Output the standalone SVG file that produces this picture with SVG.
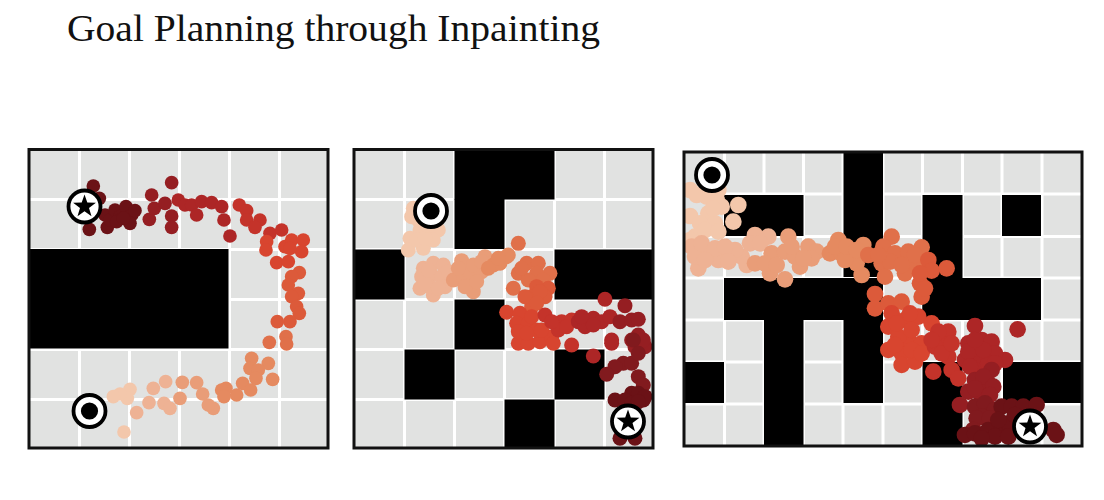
<svg xmlns="http://www.w3.org/2000/svg" width="1104" height="500" viewBox="0 0 1104 500">
<style>
.title{font-family:"Liberation Serif","Times New Roman",serif;font-size:37.5px;fill:#111}
.floor{fill:#e1e2e1}
.frame{fill:none;stroke:#111;stroke-width:3}
.grid{stroke:#fff;stroke-width:3;fill:none}
.wall{fill:#000}
.d circle{r:20.500px}
.p circle{r:22.500px}
.e circle{r:25px}
.c1{fill:#f3c7ab}.c2{fill:#eeb294}.c3{fill:#e99d78}.c4{fill:#e58a60}.c5{fill:#e0704a}
.c6{fill:#dc5a3a}.c7{fill:#d8452f}.c8{fill:#c4332a}.c9{fill:#ad2626}.c10{fill:#951e22}.c11{fill:#811a1e}.c12{fill:#6b1216}
</style>
<defs>
<clipPath id="clip1"><rect x="30" y="150" width="297" height="297"/></clipPath>
<clipPath id="clip2"><rect x="355" y="150" width="297" height="297"/></clipPath>
<clipPath id="clip3"><rect x="685" y="153" width="396" height="292"/></clipPath>
<g id="startMark"><circle r="16" fill="#fff" stroke="#000" stroke-width="3.800"/><circle r="8.600" fill="#000"/></g>
<g id="goalMark"><circle r="16" fill="#fff" stroke="#000" stroke-width="3.800"/><polygon points="0,-12 2.800,-3.900 11.400,-3.700 4.500,1.500 7,9.700 0,4.800 -7,9.700 -4.500,1.500 -11.400,-3.700 -2.800,-3.900" fill="#000"/></g>
</defs>
<rect width="1104" height="500" fill="#fff"/>
<text class="title" x="67" y="41" textLength="533" lengthAdjust="spacingAndGlyphs">Goal Planning through Inpainting</text>

<g id="panel1">
<rect class="floor" x="30" y="150" width="297" height="297"/>
<path class="grid" d="M79.500 150V447M129.500 150V447M179.500 150V447M229.500 150V447M279.500 150V447M30 199.500H327M30 249.500H327M30 299.500H327M30 349.500H327M30 399.500H327"/>
<rect class="wall" x="30" y="249" width="198.500" height="99.500"/>
<g class="d" clip-path="url(#clip1)"><g transform="translate(20,140) scale(.3333)">
<g class="c12"><circle cx="220" cy="138"/><circle cx="238" cy="175"/><circle cx="208" cy="268"/><circle cx="262" cy="262"/><circle cx="255" cy="225"/><circle cx="270" cy="240"/><circle cx="285" cy="210"/><circle cx="300" cy="230"/><circle cx="318" cy="200"/><circle cx="335" cy="225"/><circle cx="345" cy="212"/><circle cx="330" cy="250"/><circle cx="290" cy="245"/><circle cx="310" cy="235"/></g>
<g class="c10"><circle cx="388" cy="238"/><circle cx="395" cy="165"/><circle cx="403" cy="205"/><circle cx="435" cy="190"/><circle cx="455" cy="128"/><circle cx="455" cy="228"/><circle cx="455" cy="262"/></g>
<g class="c9"><circle cx="475" cy="180"/><circle cx="495" cy="195"/><circle cx="515" cy="195"/><circle cx="545" cy="185"/><circle cx="575" cy="188"/><circle cx="530" cy="225"/><circle cx="605" cy="200"/><circle cx="612" cy="240"/><circle cx="630" cy="288"/></g>
<g class="c8"><circle cx="658" cy="195"/><circle cx="680" cy="212"/><circle cx="680" cy="240"/><circle cx="720" cy="240"/><circle cx="705" cy="262"/><circle cx="750" cy="280"/><circle cx="785" cy="270"/></g>
<g class="c7"><circle cx="740" cy="305"/><circle cx="738" cy="330"/><circle cx="770" cy="368"/><circle cx="805" cy="365"/><circle cx="795" cy="320"/><circle cx="815" cy="300"/><circle cx="850" cy="300"/><circle cx="845" cy="335"/><circle cx="810" cy="325"/></g>
<g class="c6"><circle cx="838" cy="398"/><circle cx="815" cy="410"/><circle cx="805" cy="435"/><circle cx="835" cy="460"/><circle cx="815" cy="470"/><circle cx="830" cy="500"/><circle cx="838" cy="520"/><circle cx="810" cy="545"/><circle cx="772" cy="545"/></g>
<g class="c5"><circle cx="798" cy="590"/><circle cx="800" cy="612"/><circle cx="748" cy="607"/></g>
<g class="c4"><circle cx="695" cy="655"/><circle cx="745" cy="670"/><circle cx="690" cy="685"/><circle cx="715" cy="690"/><circle cx="708" cy="715"/><circle cx="758" cy="718"/><circle cx="668" cy="730"/><circle cx="692" cy="750"/><circle cx="650" cy="765"/><circle cx="618" cy="745"/><circle cx="605" cy="750"/><circle cx="612" cy="770"/></g>
<g class="c3"><circle cx="580" cy="805"/><circle cx="565" cy="795"/><circle cx="548" cy="762"/><circle cx="530" cy="728"/><circle cx="487" cy="727"/><circle cx="480" cy="775"/></g>
<g class="c2"><circle cx="437" cy="725"/><circle cx="400" cy="745"/><circle cx="432" cy="790"/><circle cx="450" cy="805"/><circle cx="387" cy="788"/><circle cx="350" cy="818"/></g>
<g class="c1"><circle cx="330" cy="748"/><circle cx="322" cy="775"/><circle cx="300" cy="762"/><circle cx="280" cy="770"/><circle cx="312" cy="876"/></g>
</g></g>
<use href="#startMark" x="89.500" y="411"/>
<use href="#goalMark" x="84.500" y="206.500"/>
<rect class="frame" x="29" y="149.500" width="299" height="298.500"/>
</g>

<g id="panel2">
<rect class="floor" x="355" y="150" width="297" height="297"/>
<path class="grid" d="M404.500 150V447M454.500 150V447M504.500 150V447M554.500 150V447M604.500 150V447M355 199.500H652M355 249.500H652M355 299.500H652M355 349.500H652M355 399.500H652"/>
<g class="wall">
<rect x="454.500" y="150" width="100" height="49.500"/>
<rect x="454.500" y="199" width="50" height="50"/>
<rect x="355" y="249.500" width="49.500" height="50"/>
<rect x="554.500" y="249.500" width="97.500" height="50"/>
<rect x="454.500" y="299.500" width="50" height="50"/>
<rect x="404.500" y="349.500" width="50" height="50"/>
<rect x="554.500" y="349.500" width="50" height="50"/>
<rect x="504.500" y="399.500" width="50" height="47.500"/>
</g>
<g class="p" clip-path="url(#clip2)"><g transform="translate(345,140) scale(.3333)">
<g class="c1"><circle cx="205" cy="205"/><circle cx="200" cy="230"/><circle cx="225" cy="270"/><circle cx="265" cy="270"/><circle cx="280" cy="270"/><circle cx="195" cy="295"/><circle cx="190" cy="330"/><circle cx="235" cy="325"/><circle cx="265" cy="300"/><circle cx="215" cy="300"/><circle cx="240" cy="295"/><circle cx="245" cy="255"/><circle cx="220" cy="240"/></g>
<g class="c2"><circle cx="235" cy="385"/><circle cx="265" cy="370"/><circle cx="295" cy="375"/><circle cx="230" cy="410"/><circle cx="260" cy="405"/><circle cx="290" cy="410"/><circle cx="225" cy="445"/><circle cx="265" cy="465"/><circle cx="300" cy="440"/><circle cx="255" cy="440"/><circle cx="330" cy="400"/><circle cx="240" cy="430"/><circle cx="280" cy="445"/><circle cx="310" cy="395"/><circle cx="250" cy="390"/></g>
<g class="c3"><circle cx="350" cy="362"/><circle cx="325" cy="420"/><circle cx="355" cy="420"/><circle cx="375" cy="395"/><circle cx="385" cy="455"/><circle cx="360" cy="440"/><circle cx="420" cy="350"/><circle cx="410" cy="395"/><circle cx="395" cy="425"/><circle cx="340" cy="385"/><circle cx="385" cy="375"/><circle cx="410" cy="365"/></g>
<g class="c4"><circle cx="445" cy="375"/><circle cx="490" cy="345"/><circle cx="465" cy="370"/><circle cx="485" cy="350"/><circle cx="430" cy="385"/><circle cx="460" cy="355"/></g>
<g class="c5"><circle cx="520" cy="310"/><circle cx="505" cy="445"/><circle cx="545" cy="370"/><circle cx="580" cy="370"/><circle cx="615" cy="400"/><circle cx="520" cy="400"/><circle cx="575" cy="400"/><circle cx="550" cy="420"/><circle cx="530" cy="385"/><circle cx="595" cy="420"/></g>
<g class="c6"><circle cx="610" cy="445"/><circle cx="575" cy="440"/><circle cx="600" cy="470"/><circle cx="560" cy="470"/><circle cx="560" cy="500"/><circle cx="540" cy="470"/><circle cx="585" cy="455"/><circle cx="575" cy="490"/></g>
<g class="c7"><circle cx="485" cy="517"/><circle cx="525" cy="520"/><circle cx="515" cy="550"/><circle cx="520" cy="610"/><circle cx="550" cy="610"/><circle cx="585" cy="605"/><circle cx="620" cy="590"/><circle cx="625" cy="610"/><circle cx="550" cy="550"/><circle cx="575" cy="570"/><circle cx="520" cy="575"/><circle cx="545" cy="580"/><circle cx="590" cy="570"/><circle cx="560" cy="530"/></g>
<g class="c8"><circle cx="600" cy="525"/><circle cx="650" cy="545"/><circle cx="680" cy="615"/><circle cx="680" cy="540"/><circle cx="640" cy="570"/><circle cx="620" cy="545"/><circle cx="665" cy="560"/></g>
<g class="c9"><circle cx="700" cy="545"/><circle cx="720" cy="560"/><circle cx="745" cy="535"/><circle cx="770" cy="545"/><circle cx="780" cy="478"/><circle cx="745" cy="648"/><circle cx="795" cy="530"/><circle cx="800" cy="600"/><circle cx="800" cy="610"/><circle cx="710" cy="530"/><circle cx="745" cy="555"/></g>
<g class="c10"><circle cx="840" cy="497"/><circle cx="825" cy="545"/><circle cx="860" cy="540"/><circle cx="880" cy="538"/><circle cx="880" cy="585"/><circle cx="870" cy="620"/><circle cx="900" cy="620"/><circle cx="895" cy="600"/><circle cx="860" cy="600"/></g>
<g class="c11"><circle cx="865" cy="600"/><circle cx="835" cy="670"/><circle cx="810" cy="680"/><circle cx="785" cy="703"/><circle cx="860" cy="670"/><circle cx="880" cy="710"/><circle cx="895" cy="735"/><circle cx="880" cy="640"/></g>
<g class="c12"><circle cx="860" cy="760"/><circle cx="880" cy="760"/><circle cx="810" cy="780"/><circle cx="840" cy="780"/><circle cx="895" cy="780"/><circle cx="860" cy="790"/><circle cx="825" cy="895"/><circle cx="870" cy="895"/><circle cx="900" cy="770"/><circle cx="880" cy="785"/></g>
</g></g>
<use href="#startMark" x="431" y="211"/>
<use href="#goalMark" x="628" y="421.500"/>
<rect class="frame" x="354" y="149.500" width="299" height="298.500"/>
</g>

<g id="panel3">
<rect class="floor" x="685" y="153" width="396" height="292"/>
<path class="grid" d="M724.500 153V445M764 153V445M803.500 153V445M843 153V445M883 153V445M922.500 153V445M962.500 153V445M1002 153V445M1042 153V445M685 194H1081M685 236.500H1081M685 278H1081M685 320H1081M685 362H1081M685 404H1081"/>
<g class="wall">
<rect x="843.500" y="153" width="39.500" height="124"/>
<rect x="724" y="195" width="79.500" height="41"/>
<rect x="922.500" y="195" width="40" height="125"/>
<rect x="1002" y="195" width="39" height="41"/>
<rect x="724" y="278" width="159" height="42"/>
<rect x="922.500" y="278" width="118.500" height="42"/>
<rect x="764" y="320" width="39.500" height="125"/>
<rect x="843.500" y="320" width="39.500" height="83"/>
<rect x="685" y="362" width="39" height="41"/>
<rect x="1003" y="362" width="78" height="41"/>
<rect x="922.500" y="362" width="40" height="83"/>
</g>
<g class="e" clip-path="url(#clip3)"><g transform="translate(675,140) scale(.3333)">
<g class="c1"><circle cx="45" cy="150"/><circle cx="45" cy="228"/><circle cx="190" cy="195"/><circle cx="175" cy="245"/><circle cx="125" cy="180"/><circle cx="100" cy="220"/><circle cx="120" cy="250"/><circle cx="140" cy="200"/><circle cx="75" cy="250"/><circle cx="60" cy="290"/><circle cx="45" cy="300"/><circle cx="130" cy="150"/><circle cx="95" cy="170"/><circle cx="65" cy="165"/><circle cx="115" cy="205"/><circle cx="90" cy="270"/><circle cx="130" cy="275"/><circle cx="105" cy="150"/></g>
<g class="c2"><circle cx="50" cy="320"/><circle cx="70" cy="385"/><circle cx="100" cy="340"/><circle cx="60" cy="350"/><circle cx="130" cy="360"/><circle cx="165" cy="340"/><circle cx="200" cy="350"/><circle cx="180" cy="330"/><circle cx="240" cy="285"/><circle cx="280" cy="290"/><circle cx="225" cy="310"/><circle cx="80" cy="310"/><circle cx="120" cy="325"/><circle cx="150" cy="320"/><circle cx="90" cy="360"/><circle cx="160" cy="365"/><circle cx="215" cy="375"/><circle cx="255" cy="310"/></g>
<g class="c3"><circle cx="240" cy="370"/><circle cx="285" cy="400"/><circle cx="290" cy="340"/><circle cx="270" cy="370"/><circle cx="330" cy="418"/><circle cx="340" cy="290"/><circle cx="330" cy="335"/><circle cx="375" cy="380"/><circle cx="360" cy="350"/><circle cx="400" cy="320"/><circle cx="425" cy="335"/><circle cx="410" cy="355"/><circle cx="305" cy="375"/><circle cx="350" cy="320"/><circle cx="385" cy="355"/></g>
<g class="c4"><circle cx="490" cy="300"/><circle cx="465" cy="340"/><circle cx="500" cy="340"/><circle cx="530" cy="340"/><circle cx="565" cy="315"/><circle cx="560" cy="405"/><circle cx="545" cy="370"/><circle cx="510" cy="360"/><circle cx="480" cy="320"/><circle cx="515" cy="320"/><circle cx="545" cy="330"/></g>
<g class="c5"><circle cx="580" cy="345"/><circle cx="650" cy="290"/><circle cx="625" cy="320"/><circle cx="620" cy="370"/><circle cx="630" cy="410"/><circle cx="660" cy="340"/><circle cx="700" cy="335"/><circle cx="740" cy="322"/><circle cx="690" cy="400"/><circle cx="720" cy="370"/><circle cx="645" cy="365"/><circle cx="680" cy="375"/><circle cx="610" cy="345"/><circle cx="720" cy="345"/></g>
<g class="c6"><circle cx="760" cy="360"/><circle cx="770" cy="392"/><circle cx="815" cy="385"/><circle cx="735" cy="430"/><circle cx="740" cy="470"/><circle cx="600" cy="462"/><circle cx="600" cy="505"/><circle cx="640" cy="490"/><circle cx="680" cy="485"/><circle cx="750" cy="445"/><circle cx="735" cy="400"/></g>
<g class="c7"><circle cx="650" cy="520"/><circle cx="640" cy="560"/><circle cx="690" cy="540"/><circle cx="730" cy="530"/><circle cx="770" cy="550"/><circle cx="640" cy="630"/><circle cx="680" cy="640"/><circle cx="680" cy="675"/><circle cx="720" cy="665"/><circle cx="700" cy="600"/><circle cx="740" cy="610"/><circle cx="670" cy="590"/><circle cx="665" cy="550"/><circle cx="710" cy="570"/><circle cx="710" cy="630"/><circle cx="660" cy="615"/><circle cx="740" cy="640"/><circle cx="705" cy="520"/></g>
<g class="c8"><circle cx="775" cy="695"/><circle cx="820" cy="575"/><circle cx="800" cy="610"/><circle cx="820" cy="650"/><circle cx="780" cy="620"/><circle cx="830" cy="690"/><circle cx="850" cy="715"/><circle cx="790" cy="575"/><circle cx="770" cy="600"/><circle cx="800" cy="640"/><circle cx="830" cy="610"/></g>
<g class="c9"><circle cx="900" cy="558"/><circle cx="880" cy="610"/><circle cx="920" cy="600"/><circle cx="950" cy="605"/><circle cx="990" cy="660"/><circle cx="960" cy="640"/><circle cx="900" cy="650"/><circle cx="870" cy="660"/><circle cx="920" cy="690"/><circle cx="1028" cy="568"/><circle cx="940" cy="670"/><circle cx="880" cy="635"/><circle cx="925" cy="630"/><circle cx="885" cy="680"/><circle cx="900" cy="600"/><circle cx="960" cy="670"/></g>
<g class="c10"><circle cx="880" cy="755"/><circle cx="855" cy="795"/><circle cx="900" cy="720"/><circle cx="940" cy="730"/><circle cx="920" cy="770"/><circle cx="950" cy="690"/><circle cx="925" cy="710"/><circle cx="955" cy="740"/><circle cx="900" cy="745"/><circle cx="945" cy="765"/></g>
<g class="c11"><circle cx="900" cy="800"/><circle cx="930" cy="790"/><circle cx="960" cy="810"/><circle cx="920" cy="830"/><circle cx="905" cy="835"/><circle cx="945" cy="835"/><circle cx="895" cy="870"/></g>
<g class="c12"><circle cx="870" cy="885"/><circle cx="900" cy="880"/><circle cx="940" cy="870"/><circle cx="980" cy="800"/><circle cx="1010" cy="800"/><circle cx="1045" cy="800"/><circle cx="1085" cy="795"/><circle cx="980" cy="870"/><circle cx="1000" cy="850"/><circle cx="1135" cy="870"/><circle cx="1145" cy="885"/><circle cx="960" cy="890"/><circle cx="1000" cy="890"/><circle cx="920" cy="895"/><circle cx="970" cy="840"/><circle cx="1020" cy="825"/></g>
</g></g>
<use href="#startMark" x="712" y="175"/>
<use href="#goalMark" x="1030" y="426.500"/>
<rect class="frame" x="684" y="152" width="398" height="294"/>
</g>
</svg>
